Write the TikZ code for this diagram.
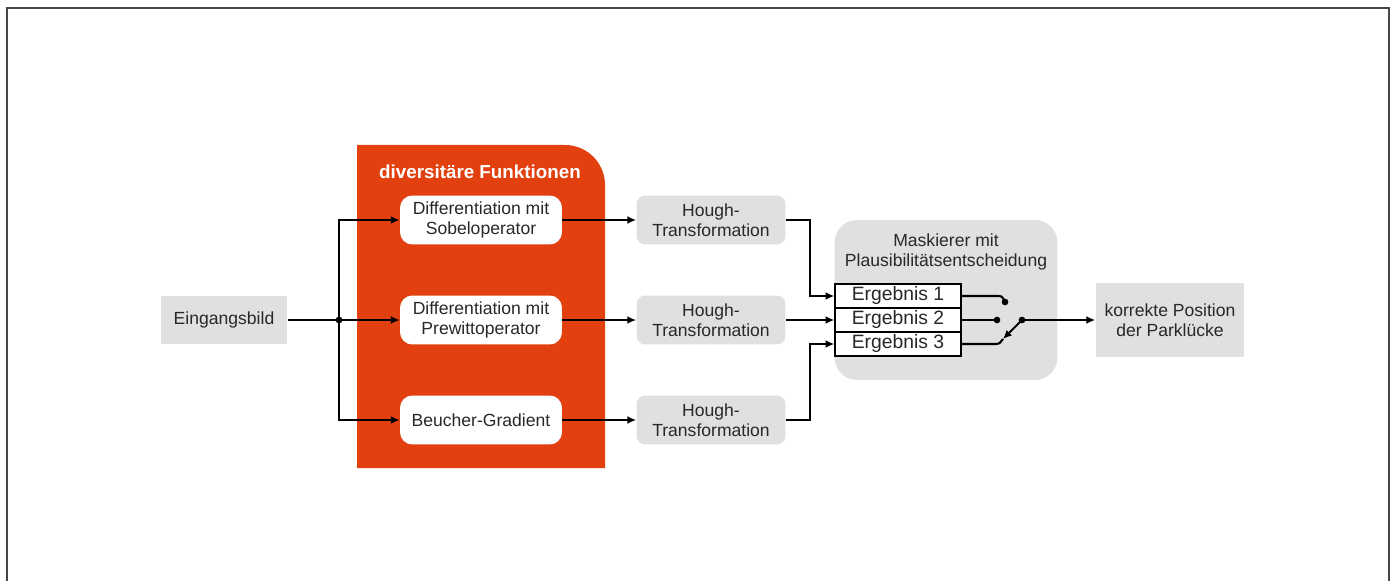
\documentclass[tikz,border=0pt]{standalone}
\usepackage{fontspec}
\setmainfont{Liberation Sans}
\usetikzlibrary{arrows.meta}

\definecolor{fktorange}{RGB}{227,64,16}
\definecolor{boxgrau}{RGB}{224,224,224}
\definecolor{rahmen}{RGB}{70,70,70}
\definecolor{schrift}{RGB}{40,40,40}

\tikzset{
  txt/.style={font=\fontsize{10}{11.4}\selectfont, text=schrift, align=center, inner sep=0pt},
  graubox/.style={txt, fill=boxgrau},
  weissbox/.style={txt, fill=white, rounded corners=7pt, minimum width=3.24cm, minimum height=0.98cm},
  houghbox/.style={graubox, rounded corners=5pt, minimum width=2.98cm, minimum height=0.98cm},
  ergbox/.style={txt, font=\fontsize{11}{12}\selectfont, draw=black, fill=white, line width=0.8pt,
    minimum width=2.52cm, minimum height=0.48cm},
  pfeil/.style={-{Latex[length=5pt,width=4.5pt]}},
  leitung/.style={line width=1.2pt},
  punkt/.style={circle, fill, inner sep=0pt, minimum size=3.8pt}
}

\begin{document}
\begin{tikzpicture}[x=0.02cm, y=-0.02cm]
  \useasboundingbox (0,0) rectangle (1394,581);
  \draw[rahmen, line width=1.2pt] (7,581) -- (7,8) -- (1389,8) -- (1389,581);

  % diversitaere Funktionen
  \fill[fktorange] (357,468) -- (357,145) [rounded corners=0.8cm] -- (605,145)
    [sharp corners] -- (605,468) -- cycle;
  \node[txt, text=white, font=\fontsize{10.7}{12}\selectfont\bfseries] (titel) at (480,172) {diversitäre Funktionen};

  \node[graubox, minimum width=2.54cm, minimum height=0.98cm] (bild) at (224,320) {Eingangsbild};

  \node[weissbox] (sobel) at (481,220) {Differentiation mit\\Sobeloperator};
  \node[weissbox] (prewitt) at (481,320) {Differentiation mit\\Prewittoperator};
  \node[weissbox] (beucher) at (481,420) {Beucher-Gradient};

  \node[houghbox] (h1) at (711,220) {Hough-\\Transformation};
  \node[houghbox] (h2) at (711,320) {Hough-\\Transformation};
  \node[houghbox] (h3) at (711,420) {Hough-\\Transformation};

  % Maskierer
  \node[graubox, rounded corners=0.45cm, minimum width=4.46cm, minimum height=3.2cm] (mask) at (946,300) {};
  \node[txt] (masktext) at (946,252) {Maskierer mit\\Plausibilitätsentscheidung};
  \node[ergbox] (e1) at (898,296) {Ergebnis 1};
  \node[ergbox] (e2) at (898,320) {Ergebnis 2};
  \node[ergbox] (e3) at (898,344) {Ergebnis 3};

  \node[graubox, minimum width=2.98cm, minimum height=1.48cm] (ziel) at (1170,320) {korrekte Position\\der Parklücke};

  % Verbindungen
  \coordinate (split) at (339,320);
  \draw[leitung] (bild) -- (split);
  \draw[leitung, pfeil] (split) |- (sobel);
  \draw[leitung, pfeil] (split) -- (prewitt);
  \draw[leitung, pfeil] (split) |- (beucher);
  \node[punkt] at (split) {};

  \draw[leitung, pfeil] (sobel) -- (h1);
  \draw[leitung, pfeil] (prewitt) -- (h2);
  \draw[leitung, pfeil] (beucher) -- (h3);

  \draw[leitung, pfeil] (h1.east) -- ++(24,0) |- (e1.west);
  \draw[leitung, pfeil] (h2) -- (e2);
  \draw[leitung, pfeil] (h3.east) -- ++(24,0) |- (e3.west);

  % Schalter
  \coordinate (k1) at (1005,302);
  \coordinate (k2) at (997,320);
  \coordinate (k3) at (1003,339);
  \coordinate (drehpunkt) at (1022,320);
  \draw[leitung] (e1.east) -- (997,296) .. controls (1002,296) .. (k1);
  \draw[leitung] (e2.east) -- (k2);
  \draw[leitung] (e3.east) -- (996,344) .. controls (999,344) .. (k3);
  \node[punkt] at (k1) {};
  \node[punkt] at (k2) {};
  \draw[leitung, pfeil] (drehpunkt) -- (k3);
  \node[punkt] at (drehpunkt) {};
  \draw[leitung, pfeil] (drehpunkt) -- (ziel);
\end{tikzpicture}
\end{document}
